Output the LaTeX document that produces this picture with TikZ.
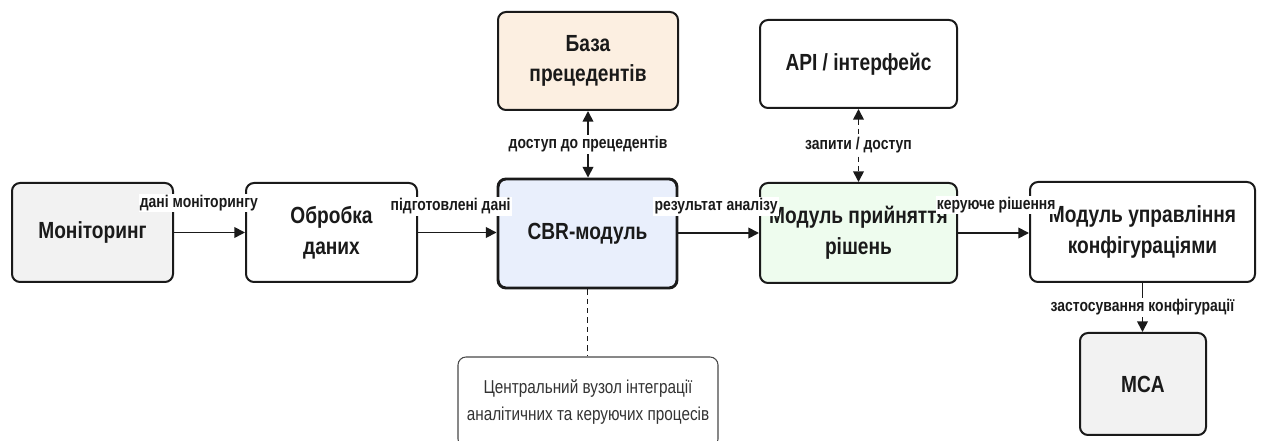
\documentclass[tikz,border=0pt]{standalone}
\usepackage{fontspec}
\setmainfont{Liberation Sans}[FakeStretch=0.82]
\usetikzlibrary{arrows.meta}
\newcommand\px{0.75pt}
\definecolor{edge}{HTML}{1A1A1A}
\definecolor{greyfill}{HTML}{F2F2F2}
\definecolor{bluefill}{HTML}{E9EFFC}
\definecolor{peachfill}{HTML}{FCEFE1}
\definecolor{greenfill}{HTML}{EEFCEE}
\definecolor{notetext}{HTML}{333333}
\begin{document}
\begin{tikzpicture}[x=0.75pt,y=-0.75pt,
  box/.style={draw=edge, line width=1.5pt, rounded corners=6pt, align=center,
    inner sep=0pt, text=edge,
    font=\bfseries\fontsize{17.5}{23}\selectfont},
  notebox/.style={draw=edge!80, line width=0.8pt, rounded corners=6pt, align=center,
    inner sep=0pt, text=notetext, font=\fontsize{14}{20}\selectfont},
  arr/.style={draw=edge, line width=1.3pt, -{Triangle[length=8pt,width=8pt]}},
  biarr/.style={draw=edge, line width=1.3pt,
    {Triangle[length=8pt,width=8pt]}-{Triangle[length=8pt,width=8pt]}},
  lab/.style={fill=white, inner sep=1pt, text=edge,
    font=\bfseries\fontsize{12.75}{14}\selectfont}]
\useasboundingbox (0,0) rectangle (1261,441);
\clip (0,0) rectangle (1261,441);

% main processing chain
\node[box, fill=greyfill, minimum width=161*\px, minimum height=99*\px] (mon) at (92.5,232.5) {Моніторинг};
\node[box, fill=white, minimum width=171*\px, minimum height=99*\px] (obr) at (331.5,232.5) {Обробка\\даних};
\node[box, fill=bluefill, line width=2.2pt, minimum width=179*\px, minimum height=109*\px] (cbr) at (587.5,233.5) {CBR-модуль};
\node[box, fill=greenfill, minimum width=197*\px, minimum height=100*\px] (mpr) at (858.5,233) {Модуль прийняття\\рішень};
\node[box, fill=white, minimum width=225*\px, minimum height=100*\px] (mup) at (1142.5,232) {Модуль управління\\конфігураціями};

% supporting blocks
\node[box, fill=peachfill, minimum width=180*\px, minimum height=98*\px] (baza) at (588,61) {База\\прецедентів};
\node[box, fill=white, minimum width=197*\px, minimum height=88*\px] (api) at (858.5,64) {API / інтерфейс};
\node[box, fill=greyfill, minimum width=126*\px, minimum height=102*\px] (mca) at (1143,384) {MCA};
\node[notebox, fill=white, minimum width=260*\px, minimum height=90*\px] (note) at (588,402)
  {Центральний вузол інтеграції\\аналітичних та керуючих процесів};

% data flow
\draw[arr] (mon.east) -- (mon.east -| obr.west)
  node[lab, midway, xshift=-8pt, yshift=22pt] {дані моніторингу};
\draw[arr] (obr.east) -- (obr.east -| cbr.west)
  node[lab, midway, xshift=-5pt, yshift=19.5pt] {підготовлені дані};
\draw[arr] (cbr.east |- mpr.west) -- (mpr.west)
  node[lab, midway, xshift=-2pt, yshift=20pt] {результат аналізу};
\draw[arr] (mpr.east) -- (mpr.east -| mup.west)
  node[lab, midway, xshift=2pt, yshift=21pt] {керуюче рішення};
\draw[biarr] (baza.south) -- (baza.south |- cbr.north)
  node[lab, midway] {доступ до прецедентів};
\draw[biarr, dash pattern=on 4pt off 3pt] (api.south) -- (api.south |- mpr.north)
  node[lab, midway] {запити / доступ};
\draw[arr] (mup.south) -- (mup.south |- mca.north)
  node[lab, midway] {застосування конфігурації};
\draw[draw=edge, line width=1pt, dash pattern=on 4pt off 3pt] (cbr.south) -- (cbr.south |- note.north);
\end{tikzpicture}
\end{document}
